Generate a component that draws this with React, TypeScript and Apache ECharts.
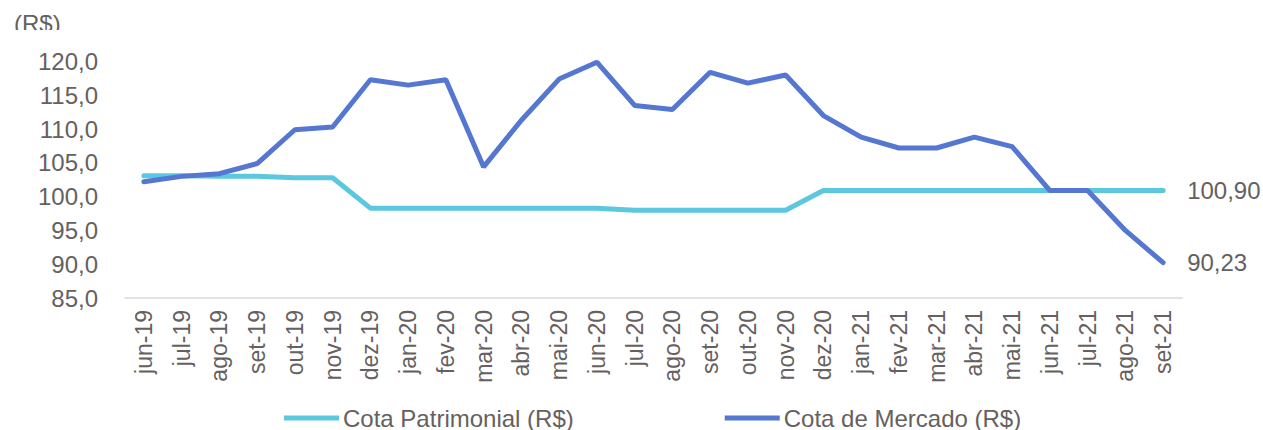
import React, { useEffect, useRef } from "react";
import * as echarts from "echarts";

const categories = [
  "jun-19", "jul-19", "ago-19", "set-19", "out-19", "nov-19", "dez-19",
  "jan-20", "fev-20", "mar-20", "abr-20", "mai-20", "jun-20", "jul-20",
  "ago-20", "set-20", "out-20", "nov-20", "dez-20", "jan-21", "fev-21",
  "mar-21", "abr-21", "mai-21", "jun-21", "jul-21", "ago-21", "set-21",
];

const cotaPatrimonial = [
  103.1, 103.1, 103.0, 103.0, 102.8, 102.8, 98.3,
  98.3, 98.3, 98.3, 98.3, 98.3, 98.3, 98.0,
  98.0, 98.0, 98.0, 98.0, 100.9, 100.9, 100.9,
  100.9, 100.9, 100.9, 100.9, 100.9, 100.9, 100.9,
];

const cotaMercado = [
  102.2, 103.0, 103.4, 104.9, 109.9, 110.3, 117.3,
  116.5, 117.3, 104.4, 111.3, 117.4, 119.9, 113.5,
  112.9, 118.4, 116.8, 118.0, 112.0, 108.8, 107.2,
  107.2, 108.8, 107.4, 100.9, 100.9, 95.0, 90.23,
];

const seriesNames = ["Cota Patrimonial (R$)", "Cota de Mercado (R$)"];
const endLabels = ["100,90", "90,23"];

const TEXT = "#666060";
const FONT = "Liberation Sans, Arial, sans-serif";

export default function App() {
  const ref = useRef<HTMLDivElement>(null);
  useEffect(() => {
    if (!ref.current) return;
    const chart = echarts.init(ref.current, undefined, { renderer: "svg" });
    const endLabel = (text: string) => ({
      show: true,
      distance: 24,
      formatter: () => text,
      color: TEXT,
      fontSize: 24,
      fontFamily: FONT,
    });
    chart.setOption({
      animation: false,
      backgroundColor: "#ffffff",
      textStyle: { fontFamily: FONT },
      grid: { left: 125, right: 81, top: 61.5, bottom: 132 },
      legend: {
        left: 284,
        top: 406,
        padding: 0,
        itemWidth: 55,
        itemHeight: 5,
        itemGap: 151,
        icon: "rect",
        textStyle: { color: TEXT, fontSize: 24, fontFamily: FONT, padding: [0, 0, 0, -1] },
        data: seriesNames,
      },
      graphic: [
        {
          type: "text",
          left: 14,
          top: 11,
          z: 10,
          style: { text: "(R$)", fill: TEXT, fontSize: 24, fontFamily: FONT },
        },
        {
          type: "rect",
          left: 8,
          top: 30,
          z: 11,
          shape: { width: 70, height: 12 },
          style: { fill: "#ffffff" },
        },
      ],
      xAxis: {
        type: "category",
        data: categories,
        boundaryGap: true,
        axisLine: { lineStyle: { color: "#d9d9d9", width: 1.5 } },
        axisTick: { show: false },
        axisLabel: {
          rotate: 90,
          interval: 0,
          margin: 12,
          color: TEXT,
          fontSize: 23,
          fontFamily: FONT,
        },
      },
      yAxis: {
        type: "value",
        min: 85,
        max: 120,
        interval: 5,
        axisLine: { show: false },
        axisTick: { show: false },
        splitLine: { show: false },
        axisLabel: {
          margin: 27,
          color: TEXT,
          fontSize: 24,
          fontFamily: FONT,
          formatter: (v: number) => v.toFixed(1).replace(".", ","),
        },
      },
      series: [
        {
          name: seriesNames[0],
          type: "line",
          data: cotaPatrimonial,
          symbol: "none",
          showSymbol: false,
          lineStyle: { color: "#5bc8df", width: 5, cap: "round" },
          itemStyle: { color: "#5bc8df" },
          endLabel: endLabel(endLabels[0]),
          z: 2,
        },
        {
          name: seriesNames[1],
          type: "line",
          data: cotaMercado,
          symbol: "none",
          showSymbol: false,
          lineStyle: { color: "#5577d1", width: 5, cap: "round" },
          itemStyle: { color: "#5577d1" },
          endLabel: endLabel(endLabels[1]),
          z: 3,
        },
      ],
    });
    return () => chart.dispose();
  }, []);
  return (
    <div
      ref={ref}
      style={{ position: "fixed", left: 0, top: 0, width: 1263, height: 430 }}
    />
  );
}
